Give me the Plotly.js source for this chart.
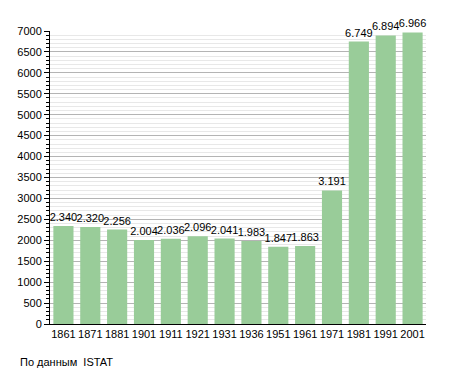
<!DOCTYPE html>
<html><head><meta charset="utf-8">
<script src="https://cdn.plot.ly/plotly-3.0.1.min.js"></script>
<style>body{margin:0;background:#fff}#c{width:455px;height:373px}</style>
</head><body><div id="c"></div>
<script>
const years = ["1861","1871","1881","1901","1911","1921","1931","1936","1951","1961","1971","1981","1991","2001"];
const population = [2340,2320,2256,2004,2036,2096,2041,1983,1847,1863,3191,6749,6894,6966];
const labels = ["2.340","2.320","2.256","2.004","2.036","2.096","2.041","1.983","1.847","1.863","3.191","6.749","6.894","6.966"];
const source = "По данным  ISTAT";

Plotly.newPlot('c', [{
  type:'bar', x:years, y:population, text:labels,
  textposition:'outside', cliponaxis:false, constraintext:'none',
  textfont:{family:'Liberation Sans, Arial, sans-serif', size:11, color:'#000'},
  marker:{color:'#99cc99'}, hoverinfo:'none'
}], {
  width:455, height:373,
  margin:{l:50, r:29, t:31, b:49},
  paper_bgcolor:'#fff', plot_bgcolor:'#fff',
  bargap:0.25,
  font:{family:'Liberation Sans, Arial, sans-serif', size:11, color:'#000'},
  xaxis:{type:'category', showline:true, linecolor:'#000', linewidth:1, ticks:'', showgrid:false, tickfont:{size:11}, fixedrange:true},
  yaxis:{range:[0,7000], dtick:500, showline:true, linecolor:'#000', linewidth:1,
    ticks:'outside', ticklen:5, tickcolor:'#000', showgrid:true, gridcolor:'#b4b4b4', gridwidth:1,
    zeroline:false, tickfont:{size:11},
    minor:{dtick:100, ticks:'outside', ticklen:3, tickcolor:'#000', showgrid:true, gridcolor:'#e8e8e8', gridwidth:1}},
  annotations:[{text:source, xref:'paper', yref:'paper', x:-0.085, y:-0.13, xanchor:'left', yanchor:'middle', showarrow:false, font:{size:11}}],
  showlegend:false
}, {staticPlot:true});
</script></body></html>
